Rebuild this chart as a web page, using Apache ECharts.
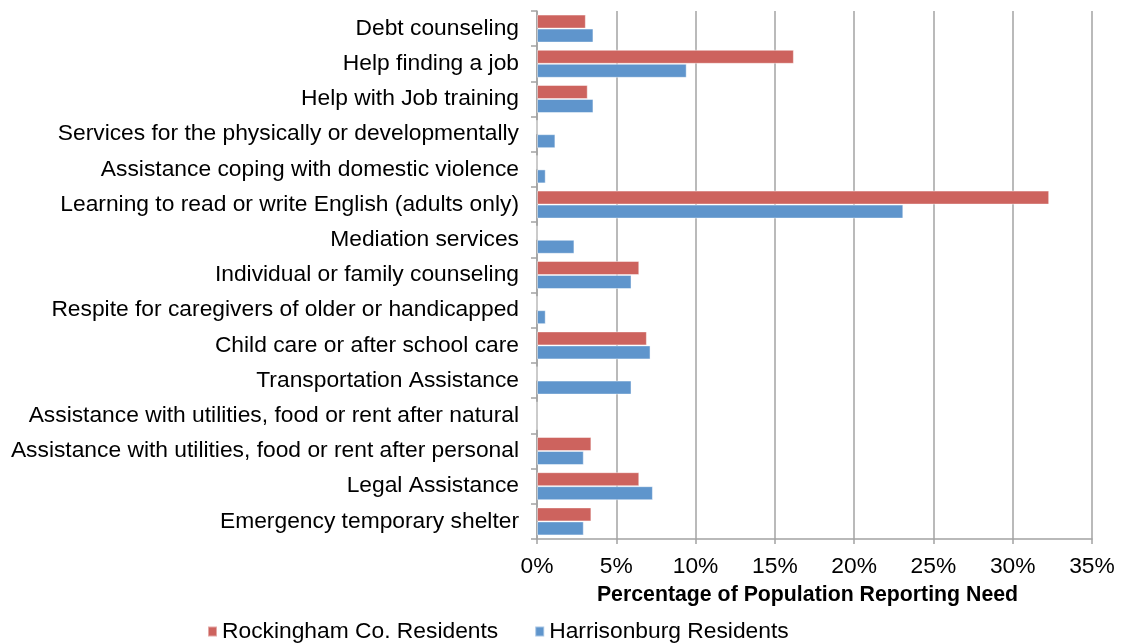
<!DOCTYPE html>
<html>
<head>
<meta charset="utf-8">
<script src="https://cdn.jsdelivr.net/npm/echarts@6/dist/echarts.min.js"></script>
<style>html,body{margin:0;padding:0;background:#fff}#c{width:1133px;height:643px}</style>
</head>
<body>
<div id="c"></div>
<script>
const categories = [
  "Debt counseling",
  "Help finding a job",
  "Help with Job training",
  "Services for the physically or developmentally",
  "Assistance coping with domestic violence",
  "Learning to read or write English (adults only)",
  "Mediation services",
  "Individual or family counseling",
  "Respite for caregivers of older or handicapped",
  "Child care or after school care",
  "Transportation Assistance",
  "Assistance with utilities, food or rent after natural",
  "Assistance with utilities, food or rent after personal",
  "Legal Assistance",
  "Emergency temporary shelter"
];
const rockingham = [3.08, 16.2, 3.2, 0, 0, 32.3, 0, 6.45, 0, 6.93, 0, 0, 3.43, 6.45, 3.43];
const harrisonburg = [3.56, 9.44, 3.56, 1.16, 0.55, 23.1, 2.36, 5.96, 0.55, 7.16, 5.96, 0, 2.95, 7.31, 2.95];
const seriesNames = ["Rockingham Co. Residents", "Harrisonburg Residents"];
const xTicks = { min: 0, max: 35, interval: 5 };

const FONT = "Liberation Sans";
const gray = "#a3a3a3";
const FS = 22.8;
const chart = echarts.init(document.getElementById('c'), null, { renderer: 'canvas' });
chart.setOption({
  animation: false,
  textStyle: { fontFamily: FONT },
  grid: { left: 537, right: 41, top: 11, bottom: 104, containLabel: false },
  legend: {
    data: seriesNames,
    left: 202, top: 615,
    icon: 'rect', itemWidth: 9, itemHeight: 10, itemGap: 36,
    textStyle: { fontFamily: FONT, fontSize: FS, color: '#000' }
  },
  xAxis: {
    type: 'value', min: xTicks.min, max: xTicks.max, interval: xTicks.interval,
    axisLine: { show: true, lineStyle: { color: gray, width: 1.5 } },
    axisTick: { show: true, length: 5, lineStyle: { color: gray, width: 1.5 } },
    splitLine: { show: true, lineStyle: { color: gray, width: 1.5 } },
    axisLabel: { formatter: '{value}%', fontFamily: FONT, fontSize: FS, color: '#000', margin: 16 },
    name: 'Percentage of Population Reporting Need',
    nameLocation: 'middle', nameGap: 46,
    nameTextStyle: { fontFamily: FONT, fontSize: 21.3, fontWeight: 'bold', color: '#000', padding: [0, 14, 0, 0] }
  },
  yAxis: {
    type: 'category', data: categories, inverse: true,
    axisLine: { show: true, lineStyle: { color: gray, width: 1.5 } },
    axisTick: { show: true, length: 6, lineStyle: { color: gray, width: 1.5 } },
    axisLabel: { fontFamily: FONT, fontSize: FS, color: '#000', margin: 18, interval: 0 }
  },
  series: [
    { name: seriesNames[0], type: 'bar', data: rockingham, barWidth: 14, barGap: '0%',
      itemStyle: { color: '#CD635E', borderColor: 'rgba(255,255,255,0.45)', borderWidth: 1 } },
    { name: seriesNames[1], type: 'bar', data: harrisonburg, barWidth: 14, barGap: '0%',
      itemStyle: { color: '#5F95CC', borderColor: 'rgba(255,255,255,0.45)', borderWidth: 1 } }
  ]
});
</script>
</body>
</html>
